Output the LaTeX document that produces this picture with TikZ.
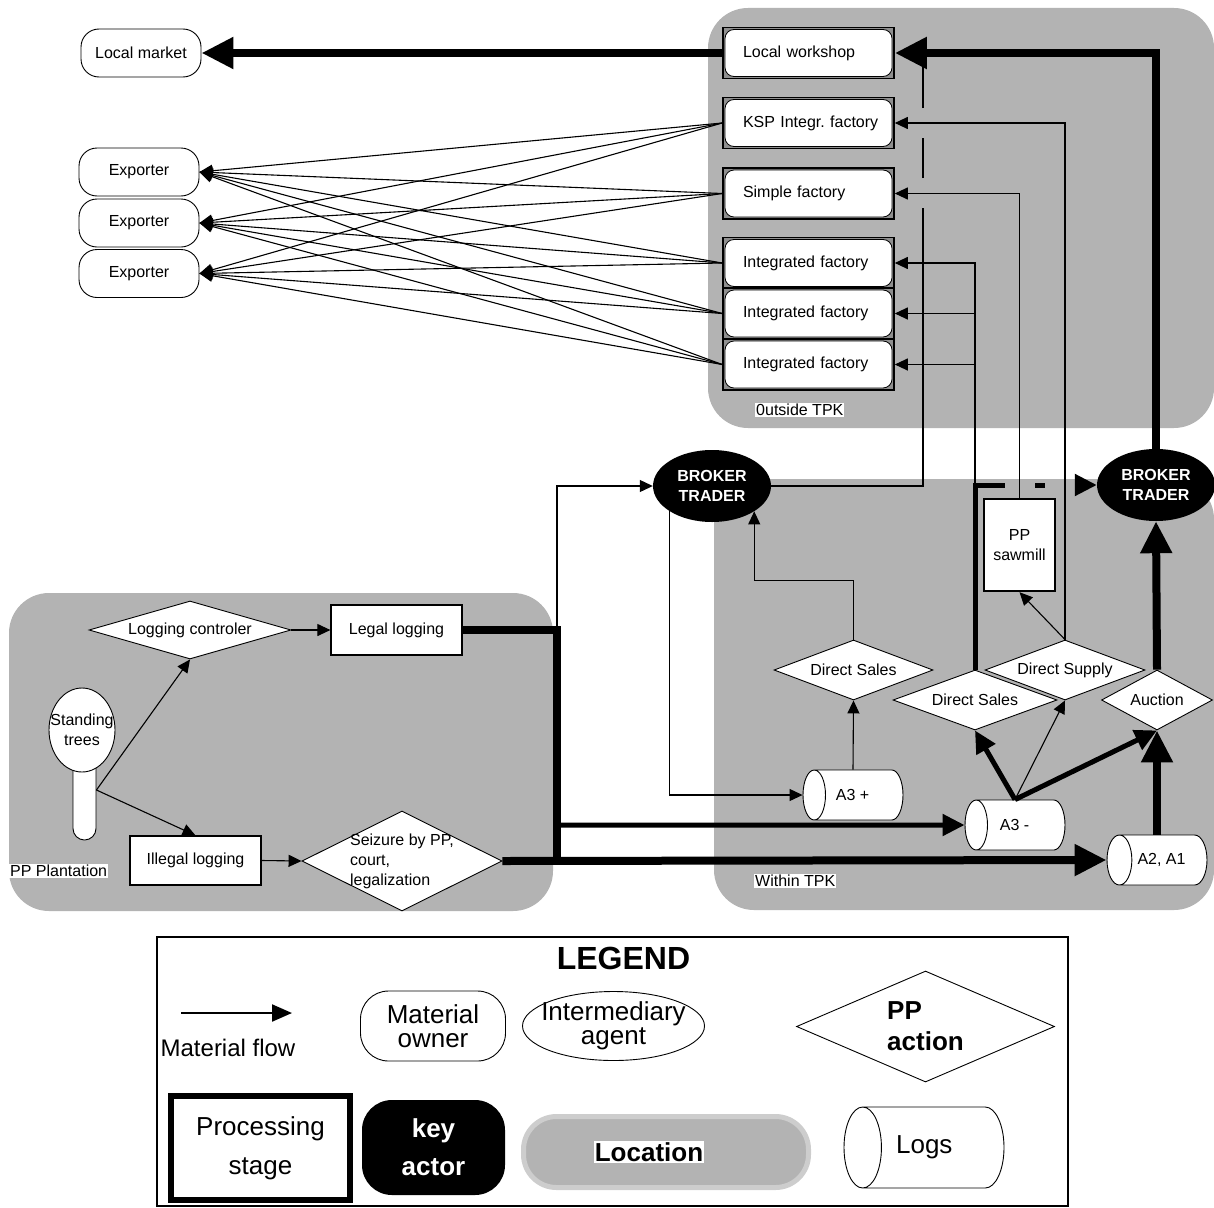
\documentclass[tikz,border=0pt]{standalone}
\usepackage{fontspec}
\setmainfont{Liberation Sans}
\usetikzlibrary{arrows.meta,shapes.geometric,calc}
\definecolor{Zone}{HTML}{B3B3B3}
\definecolor{Corner}{HTML}{8F8F8F}
\definecolor{Rim}{HTML}{CDCDCD}
\newcommand{\dfont}{\fontsize{16}{20}\selectfont}

\begin{document}
\begin{tikzpicture}[x=1pt,y=-1pt,font=\dfont,
  zone/.style={fill=Zone,rounded corners=40pt},
  zonelabel/.style={fill=white,inner sep=1pt,anchor=west},
  owner/.style={rectangle,rounded corners=18pt,draw,fill=white,line width=0.9pt,
    minimum width=120pt,minimum height=48pt},
  factory/.style={rectangle,draw,line width=1.6pt,fill=Corner,inner sep=0pt,
    minimum width=171pt,minimum height=51pt,text width=131pt,align=left,
    path picture={\draw[fill=white,line width=0.8pt,rounded corners=9pt]
      ([shift={(2pt,-2pt)}]path picture bounding box.north west) rectangle
      ([shift={(-2pt,2pt)}]path picture bounding box.south east);}},
  ppact/.style={diamond,draw,fill=white,line width=0.9pt,inner sep=0pt},
  stage/.style={rectangle,draw,fill=white,line width=1.2pt},
  broker/.style={ellipse,fill=black,text=white,font=\dfont\bfseries,align=center,
    inner sep=1pt,minimum width=118pt,minimum height=72pt},
  logs/.style={cylinder,shape border rotate=180,shape aspect=1.25,draw,fill=white,
    line width=0.9pt,minimum width=50pt,minimum height=100pt,anchor=shape center},
  shove/.style={execute at begin node={\hspace*{-#1}}},
  flow/.style={line width=1.1pt},
  smalltip/.style={-{Triangle[length=13pt,width=12pt]}},
  midline/.style={line width=5pt},
  midtip/.style={-{Triangle[length=22pt,width=21pt]}},
  bigline/.style={line width=8pt},
  bigtip/.style={-{Triangle[length=32pt,width=30pt]}},
]
\useasboundingbox (0,0) rectangle (1214,1207);

% Locations.
\fill[zone] (708,8) rectangle (1214,428);
\fill[zone] (714,479) rectangle (1214,910);
\fill[zone] (9,593) rectangle (553,911);
\node[zonelabel] (outlbl) at (755,410) {0utside TPK};
\node[zonelabel] (inlbl) at (754,881) {Within TPK};
\node[zonelabel] (pplbl) at (9,871) {PP Plantation};

% Buyers and factories.
\node[owner] (market) at (141,53) {Local market};
\foreach \n/\y in {exp1/172,exp2/223,exp3/273.5}
  \node[owner] (\n) at (139,\y) {Exporter};
\node[factory] (shop) at (808.5,53) {Local workshop};
\node[factory] (ksp) at (808.5,123) {\mbox{KSP Integr.\ factory}};
\node[factory] (simple) at (808.5,193.5) {Simple factory};
\foreach \n/\y in {integ1/263,integ2/313.5,integ3/364.5}
  \node[factory] (\n) at (808.5,\y) {Integrated factory};

\node[broker] (brokerA) at (712,486) {BROKER\\TRADER};
\node[broker] (brokerB) at (1156,485) {BROKER\\TRADER};

% Plantation.
\node[rectangle,rounded corners=11.5pt,draw,fill=white,line width=0.9pt,
  minimum width=23pt,minimum height=100pt] (trunk) at (84.5,790) {};
\node[ellipse,draw,fill=white,line width=0.9pt,minimum width=66pt,minimum height=84pt,
  label={[align=center]center:Standing\\trees}] (trees) at (82,730) {};
\node[ppact,aspect=3.4,minimum width=202pt,minimum height=58pt] (control) at (190,630) {Logging controler};
\node[stage,minimum width=131pt,minimum height=50pt] (legal) at (396.5,630) {Legal logging};
\node[stage,minimum width=131pt,minimum height=49pt] (illegal) at (195.5,860.5) {Illegal logging};
\node[ppact,minimum width=200pt,minimum height=100pt,
  label={[align=left,inner sep=0pt]center:Seizure by PP,\\court,\\legalization}] (seize) at (402,861) {};

% Within TPK.
\node[logs,shove=18pt] (aplus) at (853,795) {A3 +};
\node[logs,shove=18pt] (aminus) at (1015,825) {A3 -};
\node[logs,shove=10pt] (atwo) at (1157,860) {A2, A1};
\node[ppact,aspect=2.65,minimum width=159pt,minimum height=60pt] (salesU) at (853.5,670) {Direct Sales};
\node[ppact,aspect=2.67,minimum width=160pt,minimum height=60pt] (supply) at (1065,670) {Direct Supply};
\node[ppact,aspect=2.7,minimum width=164pt,minimum height=60pt] (salesL) at (975,700) {Direct Sales};
\node[ppact,aspect=1.85,minimum width=111pt,minimum height=60pt] (auction) at (1157,700) {Auction};
\node[stage,line width=2.4pt,minimum width=71pt,minimum height=92pt,align=center] (sawmill) at (1019.5,545) {PP\\sawmill};

% Jump points.
\coordinate (bend) at (557,630);
\coordinate (merge) at (557,860.5);
\coordinate (drop) at (557,825);
\coordinate (split) at (975,485);
\coordinate (hopA) at (1005,485);
\coordinate (hopB) at (1035,485);
\coordinate (hopC) at (1045,485);
\coordinate (hopD) at (1075,485);
\coordinate (jumpA) at (923,208);
\coordinate (jumpB) at (923,178);
\coordinate (jumpC) at (923,138);
\coordinate (jumpD) at (923,108);
\coordinate (shopin) at (923,62);
\coordinate (aplustop) at (aplus.shape center |- aplus.north);
\coordinate (aminustop) at (aminus.shape center |- aminus.north);
\coordinate (atwotop) at (atwo.shape center |- atwo.north);

% Flows.
\draw[bigline,bigtip] (shop.west) -- (market.east);
\draw[bigline,bigtip] (brokerB.north) |- (shop.east);
\foreach \f in {ksp,simple,integ1,integ2,integ3}
  \foreach \e in {exp1,exp2,exp3}
    \draw[flow,smalltip] (\f.west) -- (\e.east);

\draw[flow,smalltip] (trunk.east) -- (control.south);
\draw[flow,smalltip] (trunk.east) -- (illegal.north);
\draw[flow,smalltip] (control.east) -- (legal.west);
\draw[flow,smalltip] (illegal.east) -- (seize.west);
\draw[bigline] (legal.east) -- (bend) -- (merge);
\draw[bigline,bigtip] (seize.east) -- (atwo.west);
\draw[midline,midtip] (drop) -- (aminus.west);
\draw[flow,smalltip] (bend) |- (brokerA.west);

\draw[flow,smalltip] (aplustop) -- (salesU.south);
\draw[flow,smalltip] (salesU.north) -- ++(0,-59) -| (brokerA.-31);
\draw[flow,smalltip] (brokerA.-149) |- (aplus.west);
\draw[midline,midtip] (aminustop) -- (salesL.south);
\draw[midline,midtip] (aminustop) -- (auction.south);
\draw[flow,smalltip] (aminustop) -- (supply.south);
\draw[bigline,bigtip] (atwotop) -- (auction.south);
\draw[bigline,bigtip] (auction.north) -- (brokerB.south);
\draw[flow,smalltip] (supply.north) -- (sawmill.south);
\draw[flow,smalltip] (supply.north) |- (ksp.east);
\draw[flow,smalltip] (sawmill.north) |- (simple.east);

\draw[midline] (salesL.north) |- (hopA);
\draw[midline] (hopB) -- (hopC);
\draw[midline,midtip] (hopD) -- (brokerB.west);
\foreach \n in {integ1,integ2,integ3}
  \draw[flow,smalltip] (split) |- (\n.east);
\draw[flow] (brokerA.east) -| (jumpA);
\draw[flow] (jumpB) -- (jumpC);
\draw[flow] (jumpD) -- (shopin);

% Legend.
\draw[line width=1.2pt] (157,937) rectangle (1068,1206);
\node[font=\fontsize{32}{38}\selectfont\bfseries] (legend) at (623.5,958) {LEGEND};
\coordinate (keyA) at (181,1013);
\coordinate (keyB) at (292,1013);
\draw[line width=2.2pt,-{Triangle[length=20pt,width=17pt]}] (keyA) -- (keyB);
\node[font=\fontsize{24}{28}\selectfont] (flowtxt) at (228,1048) {Material flow};
\node[owner,rounded corners=28pt,minimum width=145pt,minimum height=70pt,
  font=\fontsize{26}{24}\selectfont,align=center] (keyowner) at (433,1026) {Material\\owner};
\node[ellipse,draw,fill=white,line width=0.9pt,minimum width=182pt,minimum height=69pt,
  label={[align=center,font=\fontsize{26}{24}\selectfont]center:Intermediary\\agent}] (keyagent) at (613.5,1026) {};
\node[ppact,aspect=2.3,minimum width=258pt,minimum height=111pt,
  font=\fontsize{26}{31}\selectfont\bfseries,align=left] (keyaction) at (925.5,1026.5) {PP\\action};
\node[stage,line width=6pt,minimum width=179pt,minimum height=104pt,
  font=\fontsize{26}{39}\selectfont,align=center] (keystage) at (260.5,1148) {Processing\\stage};
\node[rectangle,rounded corners=30pt,fill=black,text=white,minimum width=143pt,minimum height=95pt,
  font=\fontsize{26}{38}\selectfont\bfseries,align=center] (keyactor) at (433.5,1147.5) {key\\actor};
\node[rectangle,rounded corners=33pt,fill=Zone,draw=Rim,line width=5pt,minimum width=285pt,minimum height=71pt,
  label={[fill=white,inner sep=1pt,xshift=-17pt,font=\fontsize{26}{30}\selectfont\bfseries]center:Location}] (keyzone) at (666,1152) {};
\node[logs,shove=26pt,minimum width=81pt,minimum height=160pt,font=\fontsize{26}{30}\selectfont] (keylogs) at (924,1147.5) {Logs};
\end{tikzpicture}
\end{document}
